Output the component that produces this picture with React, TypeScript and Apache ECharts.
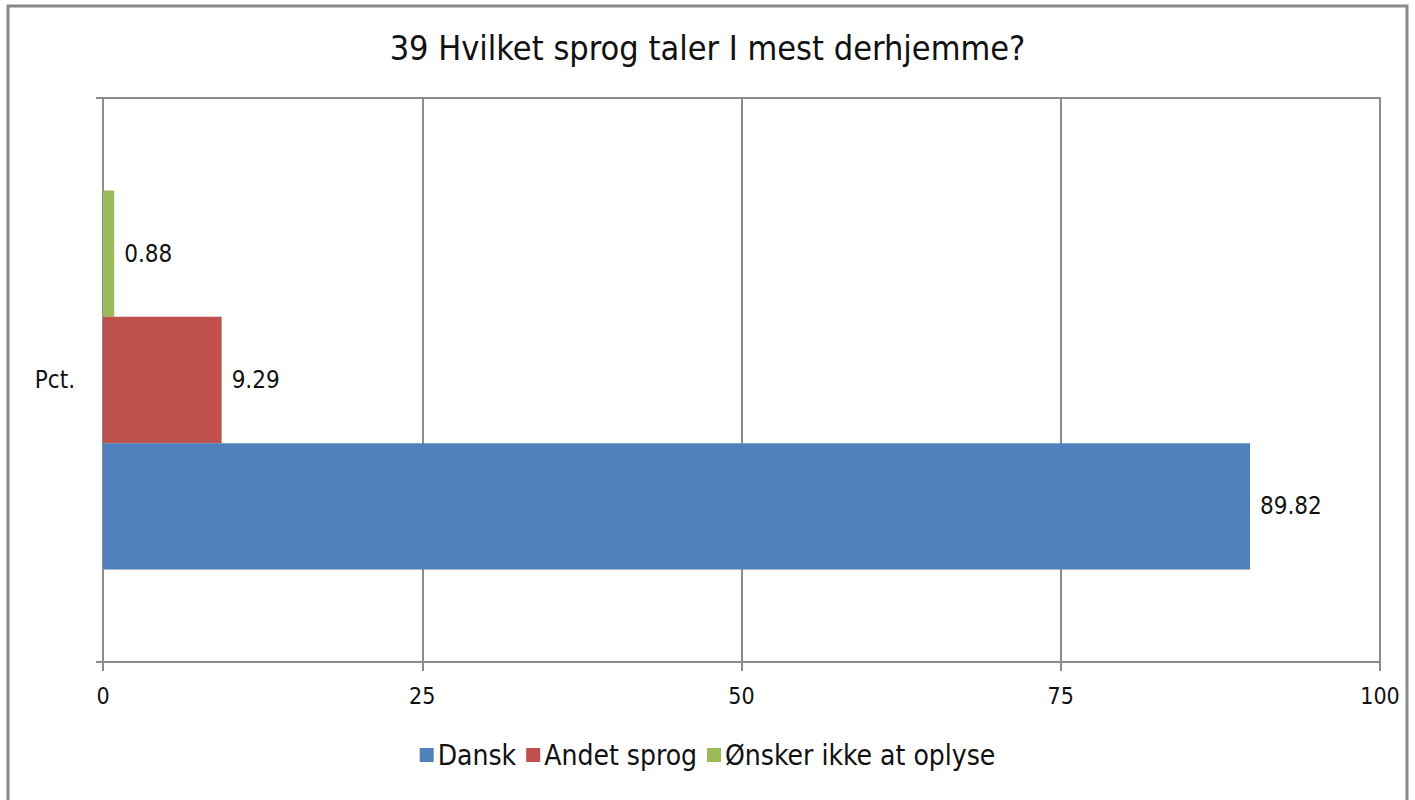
import React, { useEffect, useRef } from "react";
import * as echarts from "echarts";

const title = "39 Hvilket sprog taler I mest derhjemme?";
const categories = ["Pct."];
const seriesNames = ["Dansk", "Andet sprog", "Ønsker ikke at oplyse"];
const danskValues = [89.82];
const andetValues = [9.29];
const oenskerValues = [0.88];
const colors = ["#4F81BD", "#C0504D", "#9BBB59"];

const FONT = "'Liberation Sans Narrow', 'DejaVu Sans Condensed', 'Open Sans', sans-serif";
const GRID_COLOR = "#8c8c8c";

export default function App() {
  const ref = useRef<HTMLDivElement>(null);
  useEffect(() => {
    if (!ref.current) return;
    const chart = echarts.init(ref.current, undefined, { renderer: "svg" });
    const values = [danskValues, andetValues, oenskerValues];
    // ECharts places the first series of a horizontal bar group at the top, so draw in reverse order
    const order = [2, 1, 0];
    chart.setOption({
      animation: false,
      backgroundColor: "#ffffff",
      textStyle: { fontFamily: FONT },
      title: {
        text: title,
        left: "center",
        top: 26,
        textStyle: { fontFamily: FONT, fontSize: 34, fontWeight: "normal", color: "#111" },
      },
      legend: {
        bottom: 26,
        left: "center",
        itemWidth: 14,
        itemHeight: 14,
        itemGap: 10,
        icon: "rect",
        textStyle: { fontFamily: FONT, fontSize: 28, color: "#111", padding: [0, 0, 0, -1] },
        data: seriesNames,
      },
      graphic: [
        {
          type: "rect",
          shape: { x: 8, y: 6, width: 1399, height: 820 },
          style: { fill: "none", stroke: "#8a8a8a", lineWidth: 3 },
          silent: true,
        },
      ],
      grid: { left: 103, right: 35, top: 98, bottom: 138, show: true, borderColor: GRID_COLOR, borderWidth: 2 },
      xAxis: {
        type: "value",
        min: 0,
        max: 100,
        interval: 25,
        axisLine: { show: true, lineStyle: { color: GRID_COLOR, width: 2 } },
        axisTick: { show: true, length: 9, lineStyle: { color: GRID_COLOR, width: 2 } },
        splitLine: { show: true, lineStyle: { color: GRID_COLOR, width: 2 } },
        axisLabel: { fontFamily: FONT, fontSize: 23, color: "#111", margin: 22 },
      },
      yAxis: {
        type: "category",
        data: categories,
        axisLine: { show: true, lineStyle: { color: GRID_COLOR, width: 2 } },
        axisTick: { show: true, length: 7, lineStyle: { color: GRID_COLOR, width: 2 } },
        axisLabel: { fontFamily: FONT, fontSize: 24, color: "#111", margin: 28 },
      },
      series: order.map((i) => ({
        type: "bar",
        name: seriesNames[i],
        data: values[i],
        barGap: "0%",
        barCategoryGap: "32.8%",
        itemStyle: { color: colors[i] },
        label: {
          show: true,
          position: "right",
          distance: 10,
          fontFamily: FONT,
          fontSize: 24,
          color: "#111",
          formatter: (p: any) => p.value.toFixed(2),
        },
      })),
    });
    return () => chart.dispose();
  }, []);
  return (
    <div
      ref={ref}
      style={{ position: "absolute", left: 0, top: 0, width: 1415, height: 800 }}
    />
  );
}
